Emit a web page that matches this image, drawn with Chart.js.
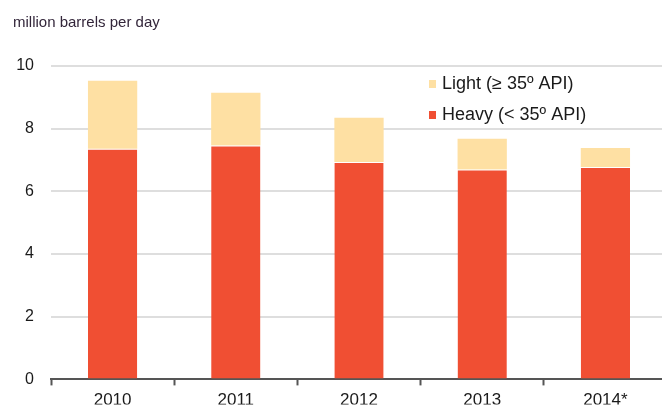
<!DOCTYPE html>
<html>
<head>
<meta charset="utf-8">
<script src="https://cdn.jsdelivr.net/npm/chart.js@4"></script>
<style>
  html, body { margin: 0; padding: 0; background: #fff; overflow: hidden; }
  #wrap { position: relative; width: 668px; height: 406px; }
  #title { position: absolute; left: 13px; top: 13px; font: 15px "Liberation Sans", Arial, sans-serif; color: #33263a; }
</style>
</head>
<body>
<div id="wrap">
  <canvas id="chart"></canvas>
  <div id="title">million barrels per day</div>
</div>
<script>
// chart data
const years = ['2010', '2011', '2012', '2013', '2014*'];
const heavy = [7.36, 7.46, 6.94, 6.70, 6.78];
const light = [2.17, 1.69, 1.41, 0.98, 0.60];   // stacked on top of heavy
const yTicks = [0, 2, 4, 6, 8, 10];

const heavyColor = '#f04f33';
const lightColor = '#fee0a3';
const fontFam = '"Liberation Sans", Arial, sans-serif';

// legend drawn inside the plot, top right
const insideLegend = {
    id: 'insideLegend',
    afterDraw(chart) {
        const ctx = chart.ctx;
        const items = [chart.data.datasets[1], chart.data.datasets[0]];
        ctx.save();
        ctx.font = '18px ' + fontFam;
        ctx.textBaseline = 'middle';
        items.forEach((ds, i) => {
            const y = 84 + i * 31;
            ctx.fillStyle = ds.backgroundColor;
            ctx.fillRect(429, y - 4, 7, 8);
            ctx.fillStyle = '#1a1a1a';
            ctx.fillText(ds.label, 442, y);
        });
        ctx.restore();
    }
};

const ctx = document.getElementById('chart').getContext('2d');
new Chart(ctx, {
    type: 'bar',
    data: {
        labels: years,
        datasets: [{
            label: 'Heavy (< 35º API)',
            data: heavy,
            backgroundColor: heavyColor,
            borderColor: '#ffffff',
            borderWidth: { top: 1, left: 0, right: 0, bottom: 0 },
            borderSkipped: false,
            categoryPercentage: 1,
            barPercentage: 0.4
        }, {
            label: 'Light (≥ 35º API)',
            data: light,
            backgroundColor: lightColor,
            borderWidth: 0,
            categoryPercentage: 1,
            barPercentage: 0.4
        }]
    },
    options: {
        responsive: true,
        maintainAspectRatio: false,
        animation: false,
        layout: { padding: { top: 66, left: 0, right: 1, bottom: 0 } },
        plugins: {
            legend: { display: false },
            tooltip: { enabled: false }
        },
        scales: {
            x: {
                stacked: true,
                offset: true,
                afterFit(scale) { scale.height = 25; },
                grid: {
                    display: true,
                    offset: true,
                    drawOnChartArea: false,
                    drawTicks: true,
                    tickLength: 6,
                    tickColor: '#555',
                    tickWidth: 2
                },
                border: { display: true, color: '#555', width: 2 },
                ticks: {
                    color: '#1a1a1a',
                    padding: 5,
                    font: { family: fontFam, size: 17 }
                }
            },
            y: {
                stacked: true,
                min: 0,
                max: 10,
                afterBuildTicks(scale) {
                    scale.ticks = yTicks.map(v => ({ value: v }));
                },
                afterFit(scale) { scale.width = 51; },
                grid: { color: '#dedede', lineWidth: 2, drawTicks: false },
                border: { display: false },
                ticks: {
                    color: '#1a1a1a',
                    padding: 17,
                    font: { family: fontFam, size: 16 }
                }
            }
        }
    },
    plugins: [insideLegend]
});
</script>
</body>
</html>
